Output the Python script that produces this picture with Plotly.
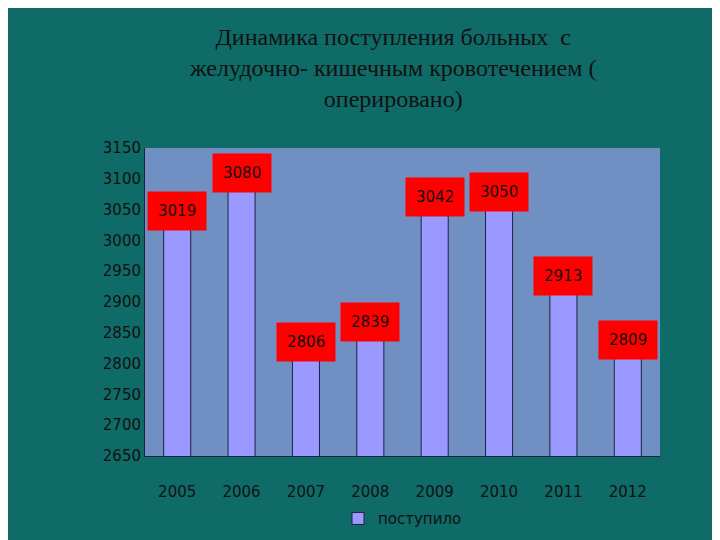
import plotly.graph_objects as go

years = ["2005", "2006", "2007", "2008", "2009", "2010", "2011", "2012"]
operated = [3019, 3080, 2806, 2839, 3042, 3050, 2913, 2809]
y_ticks = list(range(2650, 3151, 50))
title_text = "Динамика поступления больных  с<br>желудочно- кишечным кровотечением (<br>оперировано)"

fig = go.Figure()
fig.add_trace(go.Bar(
    x=years, y=operated, name="поступило",
    marker=dict(color="#9999ff", line=dict(color="#202040", width=1)),
))

# red value boxes sitting on top of each bar (x as category index)
for i, v in enumerate(operated):
    fig.add_annotation(
        x=i, y=v, text=str(v), showarrow=False, yanchor="bottom",
        bgcolor="#ff0000", borderpad=10, yshift=-2,
        font=dict(family="DejaVu Sans", size=15, color="#111111"),
    )

# title as a paper annotation so it sits where the reference puts it
fig.add_annotation(
    xref="paper", yref="paper", x=0.48, y=1.41, xanchor="center", yanchor="top",
    text=title_text, showarrow=False, align="center",
    font=dict(family="Liberation Serif", size=24, color="#111111"),
)

fig.update_layout(
    width=720, height=540,
    paper_bgcolor="#0f6b67", plot_bgcolor="#7090c4",
    margin=dict(l=137, r=68, t=140, b=92),
    bargap=0.58,
    showlegend=True,
    legend=dict(orientation="h", x=0.5, xanchor="center", y=-0.15, yanchor="top",
                font=dict(family="DejaVu Sans", size=15, color="#111111")),
    font=dict(family="DejaVu Sans", size=15, color="#111111"),
)
fig.update_yaxes(range=[2650, 3150], tickvals=y_ticks, showgrid=False,
                 showline=True, linecolor="#202040", ticks="", zeroline=False)
fig.update_xaxes(type="category", range=[-0.5, 7.5], showline=True,
                 linecolor="#202040", ticks="", ticklabelstandoff=22)
fig.write_html("out.html")
